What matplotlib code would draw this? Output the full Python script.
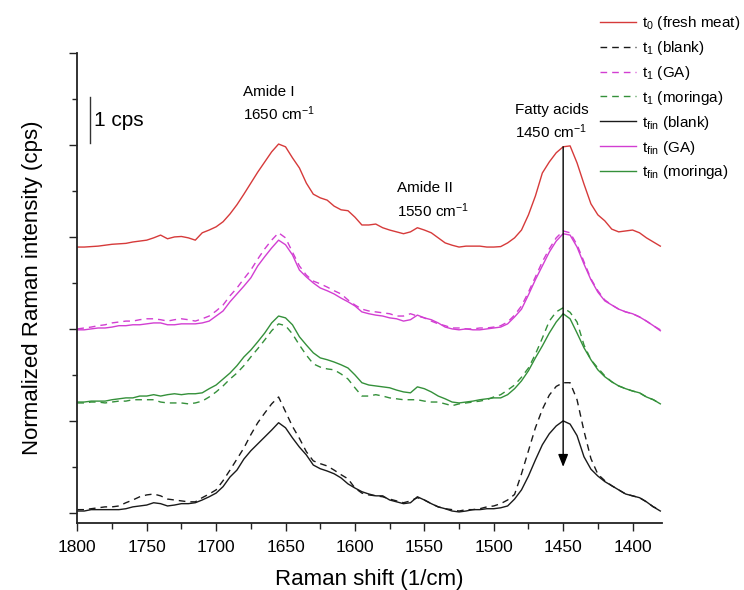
import numpy as np
import matplotlib
matplotlib.use("Agg")
import matplotlib.pyplot as plt
from matplotlib.ticker import MultipleLocator, NullFormatter

plt.rcParams['font.family'] = ['Liberation Sans', 'DejaVu Sans']
plt.rcParams['mathtext.fontset'] = 'custom'
plt.rcParams['mathtext.rm'] = 'Liberation Sans'
plt.rcParams['mathtext.it'] = 'Liberation Sans'
plt.rcParams['mathtext.default'] = 'regular'

# Raman shift grid (cm^-1), 1800 -> 1380 in 5 cm^-1 steps
wavenumber = np.arange(1800, 1379, -5)

# Stacked, normalized spectra (cps, offsets included)
t0_fresh = [
    5.78, 5.78, 5.79, 5.80, 5.82, 5.84, 5.85, 5.86, 5.89, 5.91,
    5.93, 5.98, 6.04, 5.96, 6.00, 6.01, 5.98, 5.93, 6.09, 6.15,
    6.22, 6.33, 6.50, 6.70, 6.93, 7.17, 7.41, 7.63, 7.85, 8.02,
    7.96, 7.72, 7.50, 7.17, 6.93, 6.85, 6.80, 6.67, 6.59, 6.57,
    6.43, 6.26, 6.26, 6.28, 6.20, 6.15, 6.11, 6.07, 6.11, 6.20,
    6.15, 6.09, 5.98, 5.87, 5.82, 5.78, 5.80, 5.80, 5.80, 5.78,
    5.78, 5.79, 5.87, 5.98, 6.15, 6.48, 6.89, 7.39, 7.63, 7.83,
    7.96, 7.98, 7.61, 7.15, 6.72, 6.48, 6.35, 6.17, 6.11, 6.13,
    6.15, 6.09, 5.98, 5.89, 5.80,
]
t1_blank = [
    0.07, 0.07, 0.09, 0.11, 0.13, 0.13, 0.15, 0.22, 0.28, 0.35,
    0.39, 0.41, 0.37, 0.30, 0.28, 0.26, 0.24, 0.24, 0.33, 0.41,
    0.50, 0.70, 0.93, 1.17, 1.41, 1.70, 1.96, 2.17, 2.37, 2.52,
    2.20, 1.88, 1.62, 1.33, 1.13, 1.07, 1.02, 0.93, 0.83, 0.74,
    0.54, 0.43, 0.39, 0.37, 0.35, 0.30, 0.26, 0.22, 0.26, 0.33,
    0.28, 0.20, 0.13, 0.09, 0.07, 0.04, 0.07, 0.07, 0.09, 0.13,
    0.15, 0.20, 0.28, 0.40, 0.85, 1.35, 1.85, 2.25, 2.56, 2.75,
    2.83, 2.83, 2.46, 1.78, 1.18, 0.84, 0.70, 0.59, 0.50, 0.41,
    0.37, 0.33, 0.24, 0.13, 0.07,
]
t1_ga = [
    4.00, 4.02, 4.04, 4.07, 4.09, 4.13, 4.15, 4.17, 4.17, 4.20,
    4.22, 4.22, 4.20, 4.17, 4.20, 4.22, 4.20, 4.17, 4.22, 4.28,
    4.39, 4.52, 4.72, 4.89, 5.09, 5.28, 5.52, 5.74, 5.93, 6.09,
    5.98, 5.67, 5.37, 5.17, 5.04, 4.98, 4.91, 4.83, 4.76, 4.63,
    4.52, 4.43, 4.39, 4.37, 4.35, 4.33, 4.28, 4.28, 4.33, 4.28,
    4.24, 4.17, 4.11, 4.07, 4.02, 4.02, 4.00, 4.00, 4.02, 4.02,
    4.04, 4.07, 4.15, 4.30, 4.50, 4.80, 5.13, 5.46, 5.74, 5.98,
    6.13, 6.09, 5.83, 5.46, 5.09, 4.83, 4.63, 4.52, 4.43, 4.37,
    4.33, 4.26, 4.17, 4.07, 3.98,
]
t1_moringa = [
    2.39, 2.39, 2.41, 2.41, 2.39, 2.41, 2.43, 2.43, 2.46, 2.46,
    2.46, 2.46, 2.41, 2.39, 2.39, 2.39, 2.37, 2.39, 2.43, 2.52,
    2.63, 2.76, 2.91, 3.04, 3.20, 3.39, 3.57, 3.76, 3.96, 4.11,
    4.07, 3.89, 3.65, 3.43, 3.24, 3.17, 3.13, 3.11, 3.02, 2.91,
    2.72, 2.54, 2.54, 2.57, 2.54, 2.50, 2.48, 2.46, 2.46, 2.46,
    2.43, 2.41, 2.41, 2.37, 2.33, 2.37, 2.39, 2.41, 2.43, 2.46,
    2.52, 2.57, 2.67, 2.78, 2.95, 3.15, 3.45, 3.80, 4.17, 4.37,
    4.46, 4.36, 4.15, 3.65, 3.33, 3.15, 2.98, 2.85, 2.76, 2.70,
    2.65, 2.61, 2.52, 2.46, 2.37,
]
tfin_blank = [
    0.04, 0.04, 0.07, 0.07, 0.07, 0.07, 0.07, 0.09, 0.13, 0.15,
    0.17, 0.22, 0.20, 0.15, 0.17, 0.20, 0.20, 0.22, 0.28, 0.35,
    0.43, 0.57, 0.78, 0.93, 1.17, 1.35, 1.50, 1.65, 1.80, 1.96,
    1.85, 1.63, 1.43, 1.26, 1.04, 0.96, 0.91, 0.85, 0.76, 0.63,
    0.54, 0.46, 0.41, 0.37, 0.37, 0.28, 0.24, 0.20, 0.22, 0.35,
    0.28, 0.20, 0.13, 0.09, 0.04, 0.02, 0.04, 0.07, 0.07, 0.09,
    0.09, 0.11, 0.15, 0.30, 0.50, 0.80, 1.15, 1.48, 1.72, 1.89,
    2.00, 1.93, 1.68, 1.22, 0.95, 0.80, 0.68, 0.59, 0.50, 0.41,
    0.37, 0.33, 0.24, 0.13, 0.04,
]
tfin_ga = [
    3.98, 3.98, 4.00, 4.02, 4.02, 4.04, 4.07, 4.07, 4.09, 4.09,
    4.11, 4.13, 4.13, 4.09, 4.09, 4.11, 4.11, 4.11, 4.13, 4.17,
    4.28, 4.39, 4.59, 4.76, 4.93, 5.11, 5.37, 5.57, 5.76, 5.93,
    5.83, 5.61, 5.28, 5.13, 5.00, 4.89, 4.83, 4.76, 4.67, 4.59,
    4.50, 4.37, 4.33, 4.30, 4.28, 4.24, 4.22, 4.17, 4.20, 4.30,
    4.24, 4.20, 4.13, 4.04, 4.00, 3.98, 4.00, 3.98, 3.98, 4.00,
    4.02, 4.04, 4.11, 4.26, 4.43, 4.74, 5.07, 5.37, 5.67, 5.91,
    6.07, 6.04, 5.78, 5.41, 5.07, 4.80, 4.61, 4.52, 4.43, 4.37,
    4.33, 4.26, 4.17, 4.07, 3.96,
]
tfin_moringa = [
    2.41, 2.41, 2.43, 2.43, 2.43, 2.46, 2.48, 2.50, 2.50, 2.54,
    2.54, 2.57, 2.54, 2.57, 2.59, 2.57, 2.59, 2.59, 2.61, 2.70,
    2.78, 2.91, 3.04, 3.20, 3.39, 3.54, 3.72, 3.91, 4.13, 4.28,
    4.24, 4.09, 3.83, 3.65, 3.48, 3.37, 3.33, 3.28, 3.22, 3.15,
    3.00, 2.83, 2.78, 2.76, 2.74, 2.72, 2.67, 2.63, 2.61, 2.74,
    2.70, 2.63, 2.54, 2.48, 2.41, 2.39, 2.41, 2.43, 2.46, 2.48,
    2.50, 2.50, 2.57, 2.70, 2.87, 3.09, 3.37, 3.63, 3.91, 4.15,
    4.33, 4.22, 3.91, 3.59, 3.33, 3.11, 2.96, 2.85, 2.76, 2.70,
    2.65, 2.61, 2.52, 2.46, 2.37,
]

series_labels = [
    't$_0$ (fresh meat)', 't$_1$ (blank)', 't$_1$ (GA)', 't$_1$ (moringa)',
    't$_{fin}$ (blank)', 't$_{fin}$ (GA)', 't$_{fin}$ (moringa)',
]
series_data = [t0_fresh, t1_blank, t1_ga, t1_moringa,
               tfin_blank, tfin_ga, tfin_moringa]

RED = '#d63a3a'
MAGENTA = '#d23ed2'
GREEN = '#34903a'
BLACK = '#1a1a1a'
dashed = (0, (4.8, 3.6))
series_styles = [
    dict(color=RED, ls='-'),
    dict(color=BLACK, ls=dashed),
    dict(color=MAGENTA, ls=dashed),
    dict(color=GREEN, ls=dashed),
    dict(color=BLACK, ls='-'),
    dict(color=MAGENTA, ls='-'),
    dict(color=GREEN, ls='-'),
]

band_positions = [1650, 1550, 1450]   # Amide I, Amide II, fatty acids
scale_bar_cps = 1.0

fig = plt.figure(figsize=(7.44, 5.90), dpi=100)
ax = fig.add_axes([0.1039, 0.1136, 0.7855, 0.7966])

handles = []
for y, lab, st in zip(series_data, series_labels, series_styles):
    h, = ax.plot(wavenumber, y, lw=1.0, label=lab, **st)
    handles.append(h)

ax.set_xlim(1800, 1379)
ax.set_ylim(-0.22, 10.0)

for side in ('top', 'right'):
    ax.spines[side].set_visible(False)
for side in ('left', 'bottom'):
    ax.spines[side].set_linewidth(1.3)
    ax.spines[side].set_color('#222222')

ax.xaxis.set_major_locator(MultipleLocator(50))
ax.xaxis.set_minor_locator(MultipleLocator(25))
ax.yaxis.set_major_locator(MultipleLocator(2))
ax.yaxis.set_minor_locator(MultipleLocator(1))
ax.yaxis.set_major_formatter(NullFormatter())
ax.tick_params(axis='x', which='major', direction='out', length=5.5, width=1.0,
               color='#222222', labelsize=12.5, pad=6.5)
ax.tick_params(axis='x', which='minor', direction='out', length=4.5, width=1.0,
               color='#222222')
ax.tick_params(axis='y', which='major', direction='out', length=6, width=1.0,
               color='#222222')
ax.tick_params(axis='y', which='minor', direction='out', length=3.6, width=1.0,
               color='#222222')

ax.set_xlabel('Raman shift (1/cm)', fontsize=16, labelpad=10)
ax.set_ylabel('Normalized Raman intensity (cps)', fontsize=16, labelpad=15)

# band annotations
ax.text(1680.5, 9.15, 'Amide I', fontsize=11, ha='left', va='center')
ax.text(1680.5, 8.68, f'{band_positions[0]} cm$^{{-1}}$', fontsize=11,
        ha='left', va='center')
ax.text(1569.7, 7.06, 'Amide II', fontsize=11, ha='left', va='center')
ax.text(1569.7, 6.58, f'{band_positions[1]} cm$^{{-1}}$', fontsize=11,
        ha='left', va='center')
ax.text(1484.4, 8.76, 'Fatty acids', fontsize=11, ha='left', va='center')
ax.text(1484.4, 8.29, f'{band_positions[2]} cm$^{{-1}}$', fontsize=11,
        ha='left', va='center')

# intensity scale bar
bar_x, bar_y0 = 1791.2, 8.04
ax.plot([bar_x, bar_x], [bar_y0, bar_y0 + scale_bar_cps], color='#333333', lw=1.0)
ax.text(1788.2, bar_y0 + scale_bar_cps / 2, f'{scale_bar_cps:g} cps', fontsize=15,
        ha='left', va='center')

# arrow through the fatty-acid band, from the fresh-meat peak downward
fa = band_positions[2]
peak_top = t0_fresh[list(wavenumber).index(fa)]
ax.annotate('', xy=(fa, 1.0), xytext=(fa, peak_top),
            arrowprops=dict(arrowstyle='-|>,head_length=0.75,head_width=0.3',
                            color='black', lw=1.0, shrinkA=0, shrinkB=0,
                            mutation_scale=10))

fig.legend(handles=handles, labels=series_labels, loc='upper left',
           bbox_to_anchor=(0.807, 0.976), frameon=False, fontsize=11,
           handlelength=2.35, handletextpad=0.35, labelspacing=0.45,
           borderpad=0, borderaxespad=0)

fig.savefig('out.png', dpi=100)
